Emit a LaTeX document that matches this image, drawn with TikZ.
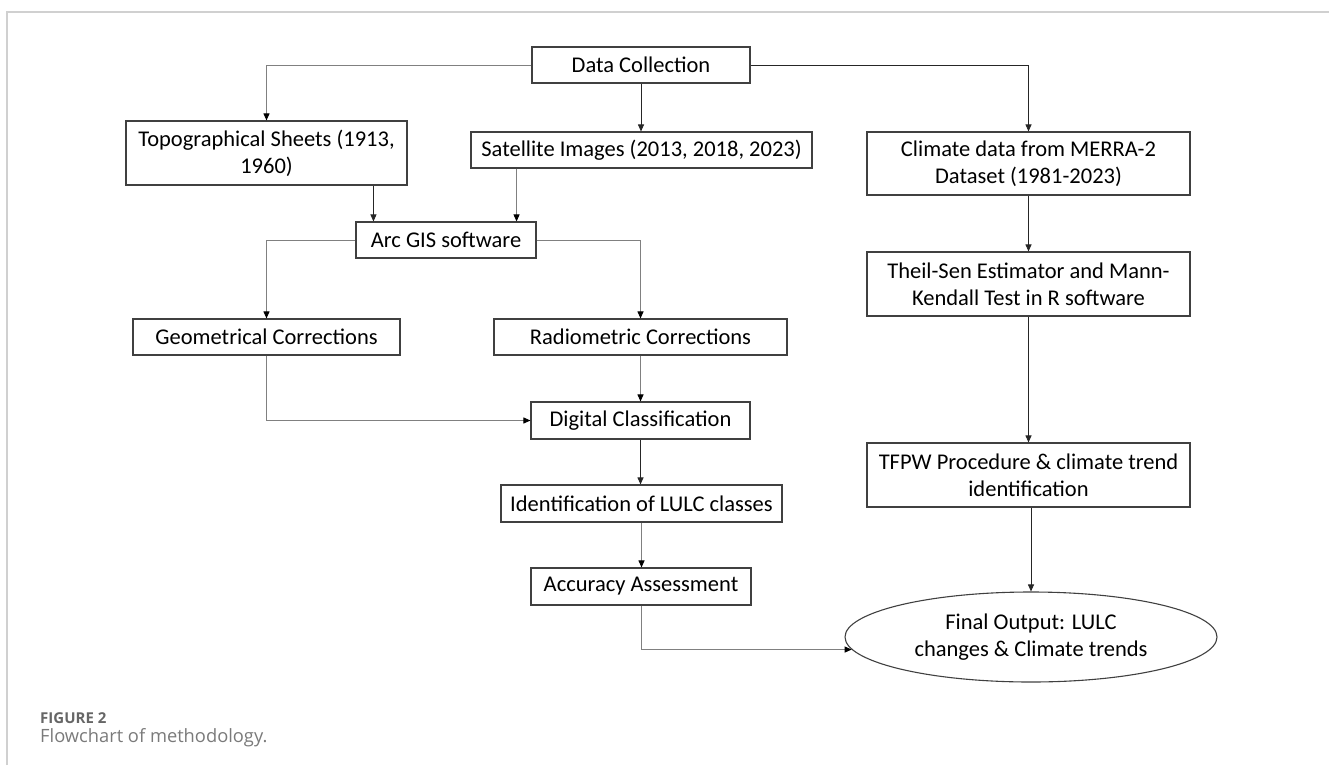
\documentclass[tikz,border=0pt]{standalone}
\usepackage{fontspec}
\setmainfont{Carlito}
\newfontfamily\capfont{Open Sans}
\usetikzlibrary{arrows.meta,shapes.geometric,calc}
\definecolor{framegray}{HTML}{D0D0D0}
\definecolor{boxline}{HTML}{404040}
\definecolor{capgray}{HTML}{666666}
\definecolor{captext}{HTML}{7A7A7A}
\begin{document}
\begin{tikzpicture}[x=1pt,y=1pt,
  box/.style={draw=boxline,line width=1.1pt,rectangle,inner sep=0pt,align=center,
    font=\fontsize{22.5}{27}\selectfont},
  conn/.style={draw=black!85,line width=0.9pt,-{Triangle[width=6pt,length=7pt]}},
  lconn/.style={draw=black!50,line width=0.9pt,-{Triangle[width=6pt,length=7pt,color=black]}}]
\useasboundingbox (0,0) rectangle (1329,-765);
\draw[framegray,line width=1.5pt] (7,-765) -- (7,-12) -- (1329,-12);

\node[box,minimum width=218pt,minimum height=36pt] (dc) at (641,-65) {Data Collection};
\node[box,minimum width=281pt,minimum height=64pt] (topo) at (266.5,-153) {Topographical Sheets (1913,\\1960)};
\node[box,minimum width=341pt,minimum height=36pt] (sat) at (641.5,-150) {Satellite Images (2013, 2018, 2023)};
\node[box,minimum width=323pt,minimum height=63pt] (clim) at (1028.5,-163.5) {Climate data from MERRA-2\\Dataset (1981-2023)};
\node[box,minimum width=180pt,minimum height=36pt] (arc) at (446,-240) {Arc GIS software};
\node[box,minimum width=267pt,minimum height=36pt] (geo) at (266.5,-337) {Geometrical Corrections};
\node[box,minimum width=293pt,minimum height=36pt] (radio) at (640.5,-337) {Radiometric Corrections};
\node[box,minimum width=219pt,minimum height=37pt] (digi) at (640.5,-420.5) {Digital Classification};
\node[box,minimum width=281pt,minimum height=37pt] (ident) at (641.5,-503.5) {Identification of LULC classes};
\node[box,minimum width=220pt,minimum height=37pt] (acc) at (641,-586.5) {Accuracy Assessment};
\node[box,minimum width=323pt,minimum height=64pt] (theil) at (1028.5,-284) {Theil-Sen Estimator and Mann-\\Kendall Test in R software};
\node[box,minimum width=323pt,minimum height=64pt] (tfpw) at (1028.5,-475) {TFPW Procedure \& climate trend\\identification};
\node[box,ellipse,minimum width=372pt,minimum height=90pt] (fin) at (1031,-637) {Final Output: LULC\\changes \& Climate trends};

\path[lconn] (dc.west) -| (topo.north);
\path[conn] (dc.east) -| (clim.north);
\path[conn] (dc.south) -- (dc.south |- sat.north);
\path[conn] ([xshift=18pt]arc.north west |- topo.south) -- ([xshift=18pt]arc.north west);
\path[lconn] ([xshift=-20pt]arc.north east |- sat.south) -- ([xshift=-20pt]arc.north east);
\path[lconn] (arc.west) -| (geo.north);
\path[lconn] (arc.east) -| (radio.north);
\path[lconn] (radio.south) -- (radio.south |- digi.north);
\path[lconn] (geo.south) |- (digi.west);
\path[conn] (digi.south) -- (digi.south |- ident.north);
\path[lconn] (ident.south) -- (ident.south |- acc.north);
\path[lconn] (acc.south) |- (fin.184);
\path[conn] (clim.south) -- (theil.north);
\path[conn] (theil.south) -- (tfpw.north);
\path[conn] (fin.north |- tfpw.south) -- (fin.north);

\node[anchor=base west,inner sep=0pt,text=capgray,font=\capfont\bfseries\fontsize{15}{18}\selectfont] (figlab) at (40,-723) {FIGURE 2};
\node[anchor=base west,inner sep=0pt,text=captext,font=\capfont\fontsize{18.3}{20}\selectfont] (figcap) at (40,-742) {Flowchart of methodology.};
\end{tikzpicture}
\end{document}
